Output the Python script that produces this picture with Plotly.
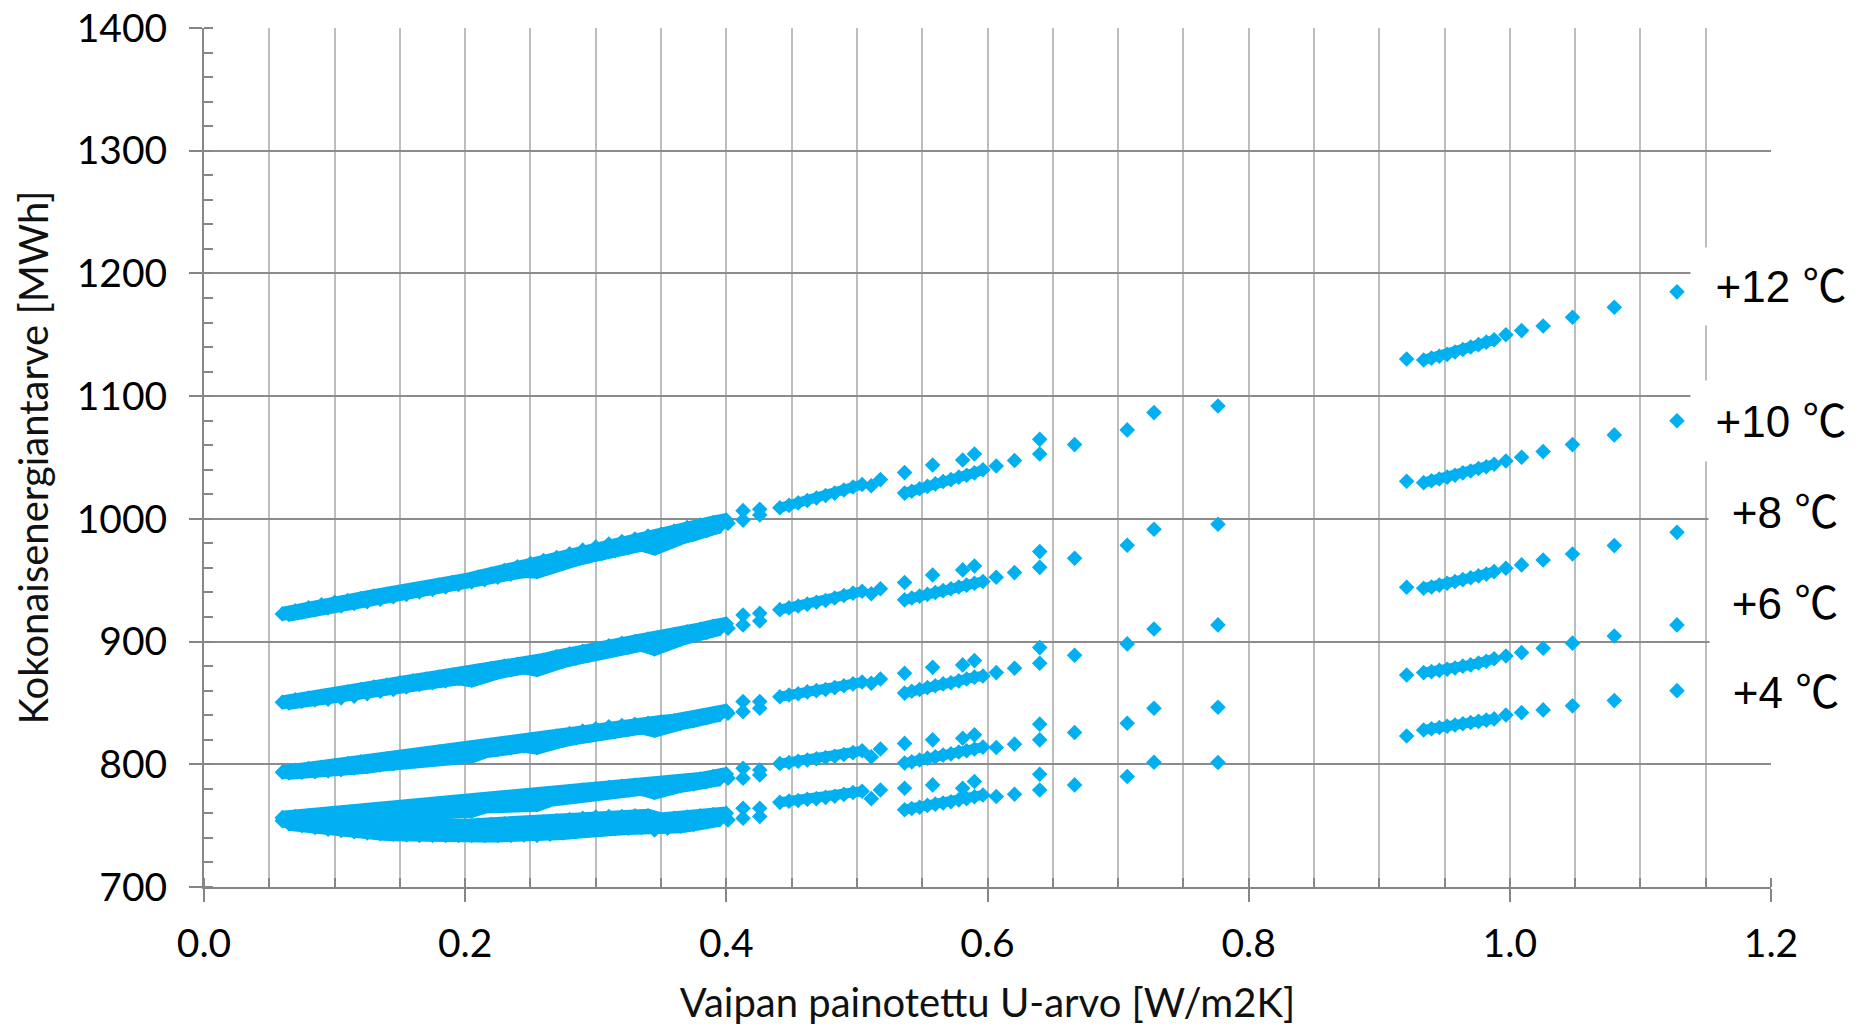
import plotly.graph_objects as go

# ---------------- data ----------------
series_names = ["+12 ℃", "+10 ℃", "+8 ℃", "+6 ℃", "+4 ℃"]

# dense region, upper row of points
x_upper = [0.06, 0.07, 0.08, 0.09, 0.10, 0.11, 0.12, 0.13, 0.14, 0.15, 0.16, 0.17,
           0.18, 0.19, 0.20, 0.21, 0.22, 0.23, 0.24, 0.25, 0.26, 0.27, 0.28, 0.29,
           0.30, 0.31, 0.32, 0.33, 0.34, 0.35, 0.36, 0.37, 0.38, 0.39, 0.40]
# dense region, lower row of points
x_lower = [0.065, 0.075, 0.085, 0.095, 0.105, 0.115, 0.125, 0.135, 0.145, 0.155,
           0.165, 0.175, 0.185, 0.195, 0.205, 0.215, 0.225, 0.235, 0.245, 0.255,
           0.265, 0.275, 0.285, 0.295, 0.305, 0.315, 0.325, 0.335, 0.345, 0.355,
           0.365, 0.375, 0.385, 0.395]
x_b = [0.4013, 0.4128, 0.4128, 0.4256, 0.4256]
x_c = [0.441, 0.448, 0.455, 0.462, 0.469, 0.476, 0.483, 0.490, 0.497, 0.504, 0.511, 0.518]
x_d = [0.5365, 0.558]
x_e = [0.5365, 0.542, 0.548, 0.554, 0.560, 0.566, 0.572, 0.578, 0.584, 0.590, 0.5965]
x_f = [0.581, 0.590]
x_g = [0.6067, 0.6207, 0.640, 0.640, 0.6667, 0.707, 0.7275, 0.7765]
x_h = [0.921, 0.934, 0.940, 0.946, 0.952, 0.958, 0.964, 0.970, 0.976, 0.982, 0.988,
       0.997, 1.009, 1.0255, 1.048, 1.080, 1.128]

y12_upper = [922.5, 925, 927.5, 930, 932, 933.5, 935, 937, 938.5, 940, 942, 944, 946, 948,
             950, 952.5, 955, 958, 961, 963.5, 966, 968.5, 971.5, 974.5, 977, 979.5, 981.5,
             983.5, 986, 987.5, 990, 993, 995, 997, 999]
y12_lower = [922, 924, 926, 927.5, 929, 931, 932.5, 934.5, 936.5, 938.5, 940.5, 942.5, 944.5,
             946.5, 948.5, 950.5, 952.5, 955, 957.5, 957, 961, 964, 967, 969.5, 972, 974,
             976.5, 979, 976, 981, 984.5, 987.5, 990.5, 994]
y12_b = [996.4, 1006.7, 999, 1007.8, 1003.2]
y12_c = [1009, 1011, 1013, 1015, 1017, 1019, 1021, 1023.5, 1026, 1028, 1027, 1032]
y12_d = [1037.7, 1043.9]
y12_e = [1021, 1022.5, 1024.5, 1026.5, 1028.5, 1030.5, 1032, 1034, 1035.5, 1037.5, 1040]
y12_f = [1048, 1052.9]
y12_g = [1043.1, 1047.5, 1064.8, 1052.9, 1060.5, 1072.5, 1086.6, 1092]
y12_h = [1130.3, 1129.5, 1131, 1132.5, 1134, 1136, 1138, 1140, 1142, 1144, 1146, 1150,
         1153.4, 1157.2, 1164.3, 1172.4, 1185]

y10_upper = [850.5, 852.5, 854, 855.5, 857, 859, 861, 863, 864.5, 866.5, 868, 869.5, 871,
             872.5, 874, 876, 878, 880, 881.5, 883, 885, 887.5, 890, 892, 894.5, 896.5,
             898.5, 900, 902, 903.5, 905.5, 908, 910, 912.5, 914.5]
y10_lower = [850, 851.5, 852.5, 853, 854, 855.5, 857.5, 859.5, 861, 863, 865, 866.5, 868,
             870, 868.5, 873, 875, 877, 879, 877, 881.5, 884, 886.5, 889, 891.5, 893.5,
             895.5, 897.5, 894, 899, 902, 905, 907.5, 910.5]
y10_b = [910.9, 921.7, 913.6, 923, 916.8]
y10_c = [926, 927.5, 929, 930.5, 932, 933.5, 935.5, 937.5, 939.5, 941, 939, 943]
y10_d = [948.1, 954.3]
y10_e = [934, 935.5, 937, 938.5, 940, 941.5, 943, 944.5, 946, 947.5, 949]
y10_f = [958.4, 961.6]
y10_g = [952.4, 956.2, 973.3, 960.5, 967.9, 978.5, 991.5, 995.6]
y10_h = [1030.6, 1029.5, 1031, 1032.5, 1034, 1035.5, 1037.5, 1039, 1041, 1042.5, 1044.5,
         1047.2, 1050.2, 1054.8, 1060.5, 1068.4, 1080]

y8_upper = [793.5, 795, 796.5, 797.5, 799, 800.5, 802, 803, 804.5, 805.5, 807, 808.5, 810,
            811, 812.5, 814, 815.5, 816.5, 818, 819.5, 821, 823, 825, 827, 829, 830.5,
            831.5, 832.5, 833.5, 834.5, 835.5, 837, 839, 841, 843.5]
y8_lower = [793, 793.5, 794, 794.5, 795.5, 797, 798, 799.5, 800.5, 802, 803.5, 805, 806.5,
            808, 806.5, 810.5, 812, 813.5, 815, 813.5, 817.5, 819.5, 821.5, 823.5, 825.5,
            827, 828.5, 830, 827.5, 831.5, 833.5, 835.5, 838, 840.5]
y8_b = [841.6, 851.1, 842.9, 851.1, 845.7]
y8_c = [855, 856.5, 857.5, 859, 860, 861, 862.5, 864, 865.5, 867, 866, 869.5]
y8_d = [874.2, 879]
y8_e = [858, 859.5, 861, 862.5, 864, 865.5, 866.5, 868, 869.5, 871, 872]
y8_f = [881, 884.5]
y8_g = [874.7, 878.3, 895.1, 882.3, 888.8, 898.1, 910.3, 913.6]
y8_h = [944.3, 943.5, 944.5, 946, 947.5, 949, 950.5, 952, 953.5, 955, 957, 959.8, 962.5,
        966.5, 971.4, 978.2, 989]

y6_upper = [756.5, 757.5, 758, 759, 760, 760.5, 761, 762, 762.5, 763, 764, 765, 766, 767,
            768, 769, 770, 771, 772, 773, 774.5, 776, 777.5, 779, 780, 781, 782, 783,
            783.5, 784, 785, 786.5, 788, 790, 792]
y6_lower = [754.5, 755, 755.5, 756, 756.5, 757, 757.5, 758, 759, 759.5, 760.5, 761.5,
            762.5, 763.5, 762, 765.5, 766.5, 767.5, 768.5, 767, 771, 772.5, 774, 775.5,
            777, 778, 779, 780, 777, 781, 782.5, 784, 786, 788]
y6_b = [788.7, 796.8, 788.7, 795.4, 791.3]
y6_c = [800.5, 801.5, 802.5, 803.5, 804.5, 805.5, 806.5, 808, 809.5, 811, 806, 812.5]
y6_d = [817, 819.9]
y6_e = [801, 802, 803.5, 805, 806, 807.5, 808.5, 810, 811, 812.5, 814]
y6_f = [821.2, 824]
y6_g = [813.7, 816.4, 832.7, 819.9, 825.9, 833.5, 845.7, 846.5]
y6_h = [872.8, 874.7, 875.5, 876.5, 877.5, 878.5, 880, 881, 882.5, 884, 886, 888.3, 891,
        894.6, 898.7, 904.6, 913.6]

y4_upper = [754, 753.5, 753, 752.5, 752, 751.5, 751, 750.5, 750, 750, 750, 750, 750, 750,
            750, 750.5, 751, 751.5, 752, 752.5, 753, 754, 755, 756, 757, 757.5, 757.5, 758,
            758, 755, 756, 757, 758, 759, 760]
y4_lower = [751.5, 750, 748.5, 747, 746, 745, 744, 743.5, 743, 742.5, 742, 742, 742, 742,
            742, 742, 742, 742, 742.5, 742, 743, 744, 745, 746.5, 747, 747.5, 748, 748.5,
            746.5, 748, 749.5, 751, 753, 755]
y4_b = [754.7, 764.2, 756.1, 764.2, 757.4]
y4_c = [769, 770, 770.5, 771.5, 772, 773, 774, 775.5, 777, 778, 772, 779]
y4_d = [780.5, 783.2]
y4_e = [763, 764, 765, 766.5, 767.5, 768.5, 769.5, 771, 772, 773.5, 775]
y4_f = [780.5, 786]
y4_g = [773.7, 775.6, 791.9, 779.1, 783.2, 790.0, 801.7, 801.4]
y4_h = [823.1, 828, 829, 830, 831, 832, 833, 834, 835, 836, 837, 840.2, 842.1, 844.3,
        847.6, 851.9, 860]

x_ticks = [0.0, 0.2, 0.4, 0.6, 0.8, 1.0, 1.2]
y_ticks = [700, 800, 900, 1000, 1100, 1200, 1300, 1400]

# ---------------- figure ----------------
x_parts = [x_upper, x_lower, x_b, x_c, x_d, x_e, x_f, x_g, x_h]
series_y = [
    [y12_upper, y12_lower, y12_b, y12_c, y12_d, y12_e, y12_f, y12_g, y12_h],
    [y10_upper, y10_lower, y10_b, y10_c, y10_d, y10_e, y10_f, y10_g, y10_h],
    [y8_upper, y8_lower, y8_b, y8_c, y8_d, y8_e, y8_f, y8_g, y8_h],
    [y6_upper, y6_lower, y6_b, y6_c, y6_d, y6_e, y6_f, y6_g, y6_h],
    [y4_upper, y4_lower, y4_b, y4_c, y4_d, y4_e, y4_f, y4_g, y4_h],
]

BLUE = "#00B0F0"
fig = go.Figure()

# The densest clusters hold so many overlapping points in the original that they
# read as solid bands; a thick stroke through each row's points fills the band.
for name, yp in zip(series_names, series_y):
    dense_rows = [
        (x_parts[0], yp[0], 14),
        (x_parts[1], yp[1], 14),
        (x_parts[3][:10], yp[3][:10], 10),
        (x_parts[5], yp[5], 10),
        (x_parts[8][1:11], yp[8][1:11], 10),
    ]
    for xr, yr, w in dense_rows:
        fig.add_trace(go.Scatter(
            x=xr, y=yr, mode="lines", showlegend=False, hoverinfo="skip",
            line=dict(color=BLUE, width=w), legendgroup=name,
        ))

for name, yparts in zip(series_names, series_y):
    xs, ys = [], []
    for xp, yv in zip(x_parts, yparts):
        xs += xp
        ys += yv
    fig.add_trace(go.Scatter(
        x=xs, y=ys, mode="markers", name=name, showlegend=False, legendgroup=name,
        marker=dict(symbol="diamond", size=12, color=BLUE, line=dict(width=0)),
        cliponaxis=False,
    ))

W, H = 1875, 1026
L, R, T, B = 204, 104, 28, 139
pw, ph = W - L - R, H - T - B

def px_to_paper(xp, yp):
    return (xp - L) / pw, (H - B - yp) / ph

label_boxes = [  # (center x, center y, box width, box height) in pixels
    (1781, 286, 178, 75),
    (1781, 421, 178, 78),
    (1785, 512, 150, 82),
    (1785, 603, 148, 80),
    (1786, 692, 148, 79),
]
annotations = []
for name, (cx, cy, bw, bh) in zip(series_names, label_boxes):
    ax_, ay_ = px_to_paper(cx, cy)
    annotations.append(dict(
        text=name, x=ax_, y=ay_, xref="paper", yref="paper",
        xanchor="center", yanchor="middle", showarrow=False,
        bgcolor="white", width=bw, height=bh, align="center",
        font=dict(family="Liberation Sans, Noto Sans CJK JP, sans-serif", size=44, color="black"),
    ))

tick_font = dict(family="Lato, Liberation Sans, sans-serif", size=39, color="black")
title_font = dict(family="Lato, Liberation Sans, sans-serif", size=40, color="#111111")

fig.update_layout(
    width=W, height=H,
    margin=dict(l=L, r=R, t=T, b=B, pad=0, autoexpand=False),
    paper_bgcolor="white", plot_bgcolor="white",
    annotations=annotations,
    xaxis=dict(
        range=[0, 1.2000001], tickvals=x_ticks, ticktext=[f"{v:.1f}" for v in x_ticks],
        automargin=False,
        showgrid=True, gridcolor="#bdbdbd", gridwidth=2,
        showline=True, linecolor="#868686", linewidth=2,
        ticks="outside", ticklen=13, tickwidth=2, tickcolor="#868686",
        tickfont=tick_font, ticklabelstandoff=8,
        minor=dict(dtick=0.05, tick0=0, showgrid=True, gridcolor="#bdbdbd", gridwidth=2,
                   ticks="inside", ticklen=9, tickwidth=2, tickcolor="#868686"),
        zeroline=False,
        title=dict(text="Vaipan painotettu U-arvo [W/m2K]", font=title_font, standoff=25),
    ),
    yaxis=dict(
        range=[700, 1400.0001], tickvals=y_ticks,
        automargin=False,
        showgrid=True, gridcolor="#8c8c8c", gridwidth=2,
        showline=True, linecolor="#868686", linewidth=2,
        ticks="outside", ticklen=13, tickwidth=2, tickcolor="#868686",
        tickfont=tick_font, ticklabelstandoff=14,
        minor=dict(dtick=20, tick0=700, showgrid=False,
                   ticks="inside", ticklen=9, tickwidth=2, tickcolor="#868686"),
        zeroline=False,
        title=dict(text="Kokonaisenergiantarve [MWh]", font=title_font, standoff=16),
    ),
)

fig.write_html("out.html")
